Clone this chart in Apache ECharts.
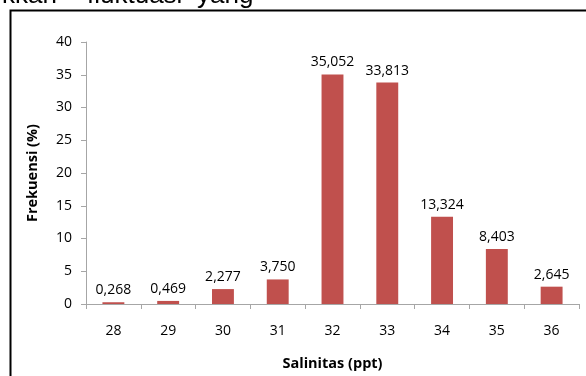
<!DOCTYPE html>
<html>
<head>
<meta charset="utf-8">
<script src="https://cdn.jsdelivr.net/npm/echarts@6/dist/echarts.min.js"></script>
<style>
  html, body { margin: 0; padding: 0; background: #fff; }
  #chart { width: 586px; height: 376px; }
</style>
</head>
<body>
<div id="chart"></div>
<script>
// Salinity classes (ppt) and frequency of occurrence (%)
const salinityClasses = ['28', '29', '30', '31', '32', '33', '34', '35', '36'];
const frequencyPct = [0.268, 0.469, 2.277, 3.750, 35.052, 33.813, 13.324, 8.403, 2.645];
const yTicks = [0, 5, 10, 15, 20, 25, 30, 35, 40];
// Tail of the paragraph line above the figure
const paragraphWords = ['kkan', 'fluktuasi', 'yang'];

const FONT = '"Open Sans", Lato, sans-serif';
const fmt = v => v.toFixed(3).replace('.', ',');

const wordX = [2, 87, 197];
const paragraphText = paragraphWords.map((w, i) => ({
  type: 'text',
  x: wordX[i],
  y: -4,
  silent: true,
  style: {
    text: w,
    font: '26px "Liberation Sans", Arial, sans-serif',
    fill: '#000',
    verticalAlign: 'middle'
  }
}));

const chart = echarts.init(document.getElementById('chart'), null, { renderer: 'canvas' });
chart.setOption({
  animation: false,
  backgroundColor: '#fff',
  graphic: paragraphText.concat([
    {
      type: 'rect',
      shape: { x: 10.5, y: 10.5, width: 600, height: 400 },
      style: { fill: 'none', stroke: '#000', lineWidth: 2 }
    }
  ]),
  grid: { left: 86, right: 7, top: 42, bottom: 71 },
  xAxis: {
    type: 'category',
    data: salinityClasses,
    name: 'Salinitas (ppt)',
    nameLocation: 'middle',
    nameGap: 52,
    nameTextStyle: { fontFamily: FONT, fontSize: 14.5, fontWeight: 'bold', color: '#000' },
    axisLine: { lineStyle: { color: '#a6a6a6', width: 1 } },
    axisTick: { show: true, length: 5, alignWithLabel: false, lineStyle: { color: '#a6a6a6' } },
    axisLabel: { fontFamily: FONT, fontSize: 14, color: '#000', margin: 20 }
  },
  yAxis: {
    type: 'value',
    min: yTicks[0],
    max: yTicks[yTicks.length - 1],
    interval: yTicks[1] - yTicks[0],
    name: 'Frekuensi (%)',
    nameLocation: 'middle',
    nameGap: 46,
    nameTextStyle: { fontFamily: FONT, fontSize: 14.5, fontWeight: 'bold', color: '#000' },
    axisLine: { show: true, lineStyle: { color: '#a6a6a6', width: 1 } },
    axisTick: { show: true, length: 5, inside: false, lineStyle: { color: '#a6a6a6' } },
    axisLabel: { fontFamily: FONT, fontSize: 14, color: '#000', margin: 14 },
    splitLine: { show: false }
  },
  series: [{
    type: 'bar',
    data: frequencyPct,
    barWidth: '40%',
    itemStyle: { color: '#c0504d' },
    label: {
      show: true,
      position: 'top',
      distance: 5,
      fontFamily: FONT,
      fontSize: 14,
      color: '#000',
      formatter: p => fmt(p.value)
    }
  }]
});
</script>
</body>
</html>
